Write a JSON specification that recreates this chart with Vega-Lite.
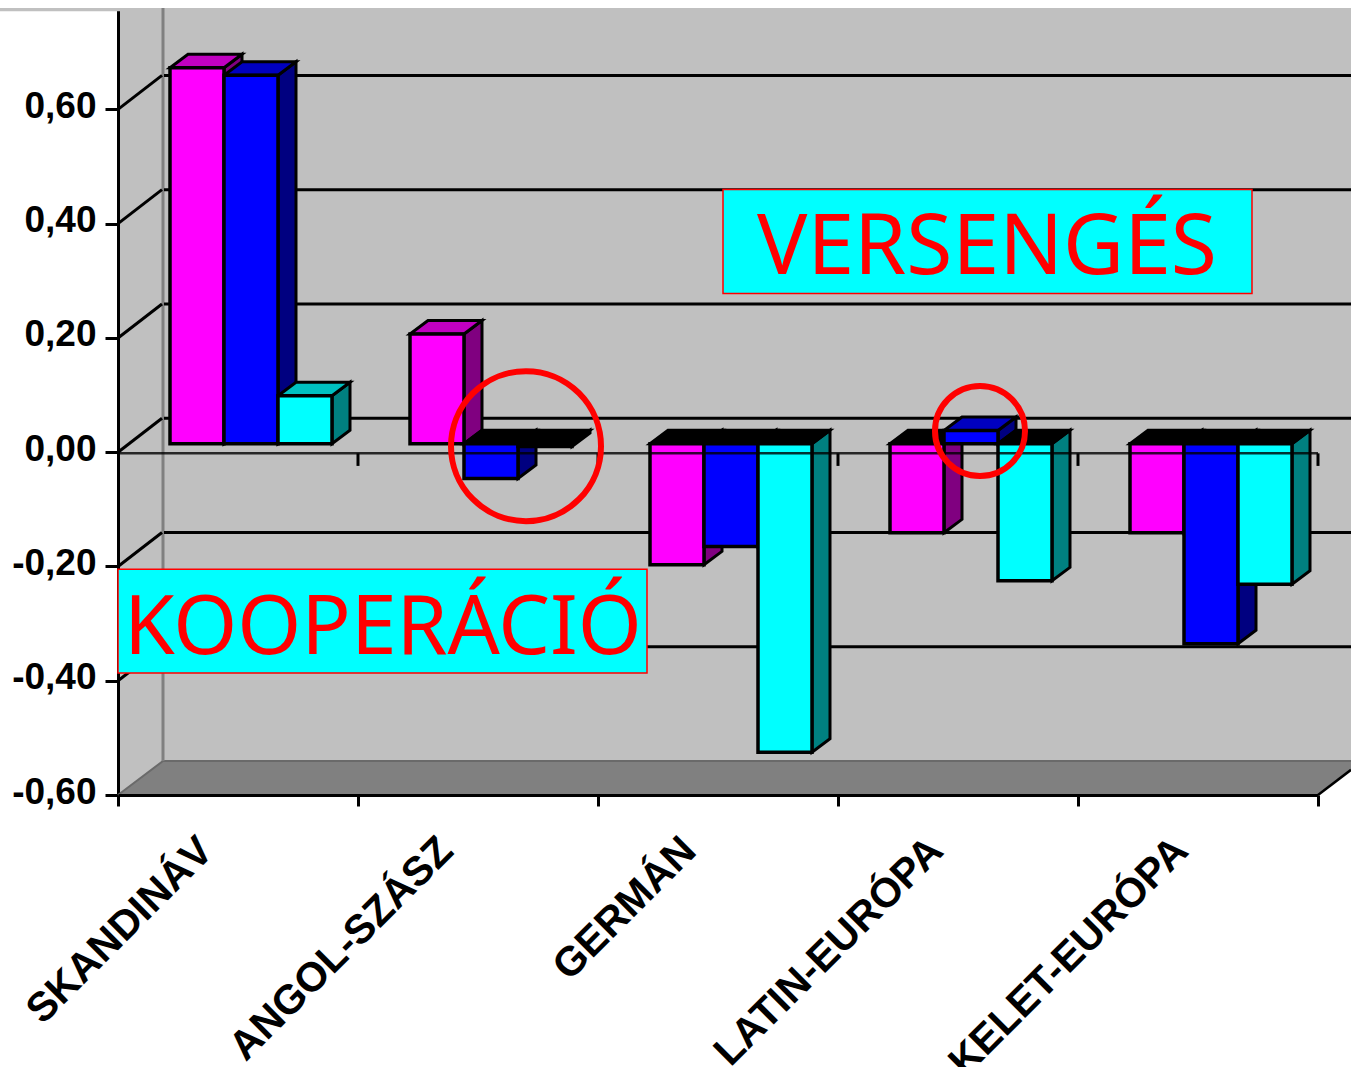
{
"$schema":"https://vega.github.io/schema/vega-lite/v6.json",
"width":1233,"height":787,
"autosize":"none",
"padding":{"left":118,"top":8,"right":0,"bottom":272},
"background":"white",
"view":{"fill":"#c0c0c0","stroke":null},
"config":{"axis":{"grid":false}},
"datasets":{
"bars":[
{"category":"SKANDINÁV","series":"A","value":0.658},{"category":"SKANDINÁV","series":"B","value":0.645},{"category":"SKANDINÁV","series":"C","value":0.084},
{"category":"ANGOL-SZÁSZ","series":"A","value":0.192},{"category":"ANGOL-SZÁSZ","series":"B","value":-0.061},{"category":"ANGOL-SZÁSZ","series":"C","value":-0.005},
{"category":"GERMÁN","series":"A","value":-0.212},{"category":"GERMÁN","series":"B","value":-0.18},{"category":"GERMÁN","series":"C","value":-0.54},
{"category":"LATIN-EURÓPA","series":"A","value":-0.156},{"category":"LATIN-EURÓPA","series":"B","value":0.023},{"category":"LATIN-EURÓPA","series":"C","value":-0.24},
{"category":"KELET-EURÓPA","series":"A","value":-0.156},{"category":"KELET-EURÓPA","series":"B","value":-0.35},{"category":"KELET-EURÓPA","series":"C","value":-0.246}
],
"ticks":[{"value":-0.6},{"value":-0.4},{"value":-0.2},{"value":0},{"value":0.2},{"value":0.4},{"value":0.6}],
"bounds":[{"i":1},{"i":2},{"i":3},{"i":4},{"i":5}],
"one":[{"label":"x"}]
},
"resolve":{"scale":{"x":"independent","color":"independent"},"axis":{"y":"independent"}},
"layer":[
{"data":{"name":"one"},"transform":[{"calculate":"-118","as":"ax"},{"calculate":"1233","as":"ax2"},{"calculate":"0.7775","as":"ay"},{"calculate":"0.772","as":"ay2"}],"mark":{"type":"rect","color":"#c0c0c0"},
 "encoding":{"x":{"field":"ax","type":"quantitative","scale":{"domain":[0,1233]},"axis":null},"x2":{"field":"ax2"},
 "y":{"field":"ay","type":"quantitative","scale":{"domain":[-0.6,0.7775],"nice":false,"zero":false},"axis":{"values":[-0.6,-0.4,-0.2,0,0.2,0.4,0.6],"title":null,"labelExpr":"replace(replace(format(datum.value,'.2f'),'.',','),'−','-')","labelFont":"Liberation Sans","labelFontWeight":"bold","labelFontSize":37,"labelColor":"black","labelPadding":9,"labelOffset":-3,"tickSize":13,"tickWidth":3,"tickColor":"black","domainWidth":3,"domainColor":"black","zindex":0,"grid":false,"labelOverlap":false,"labelFlush":false,"labelBound":false}},"y2":{"field":"ay2"}}},
{"data":{"name":"bars"},"mark":{"type":"bar","opacity":0},
 "encoding":{"x":{"field":"category","type":"nominal","sort":null,"scale":{"type":"band","range":[0,1200],"paddingInner":0,"paddingOuter":0},"axis":{"title":null,"tickBand":"extent","labelAngle":-45,"labelAlign":"right","labelBaseline":"top","labelFont":"Liberation Sans","labelFontWeight":"bold","labelFontSize":41,"labelColor":"black","labelOffset":{"condition":[{"test":"datum.value=='GERMÁN'","value":-43},{"test":"datum.value=='LATIN-EURÓPA'","value":-36},{"test":"datum.value=='KELET-EURÓPA'","value":-31}],"value":-46},"labelPadding":24,"labelLimit":500,"labelOverlap":false,"tickSize":11,"tickWidth":3,"tickColor":"black","domainWidth":3,"domainColor":"black","zindex":1,"grid":false}},
 "y":{"field":"value","type":"quantitative","stack":null,"scale":{"domain":[-0.6,0.7775],"nice":false,"zero":false},"axis":null}}},
{"data":{"name":"one"},"transform":[{"calculate":"[0,45,1200,1233]","as":"fx"},{"flatten":["fx"]},{"calculate":"datum.fx==0?-0.6:-0.5405","as":"fy"},{"calculate":"datum.fx==1233?-0.556:-0.6","as":"fy2"}],
 "mark":{"type":"area","color":"#808080"},
 "encoding":{"x":{"field":"fx","type":"quantitative","scale":{"domain":[0,1233]},"axis":null},
 "y":{"field":"fy2","type":"quantitative","scale":{"domain":[-0.6,0.7775],"nice":false,"zero":false},"axis":null},"y2":{"field":"fy"}}},
{"data":{"name":"one"},"mark":{"type":"area","color":"white"},
 "transform":[{"calculate":"[1200,1233]","as":"fx"},{"flatten":["fx"]},{"calculate":"datum.fx==1233?-0.556:-0.6","as":"fy"},{"calculate":"-0.62","as":"fy2"}],
 "encoding":{"x":{"field":"fx","type":"quantitative","scale":{"domain":[0,1233]},"axis":null},
 "y":{"field":"fy","type":"quantitative","scale":{"domain":[-0.6,0.7775],"nice":false,"zero":false},"axis":null},"y2":{"field":"fy2"}}},
{"data":{"name":"one"},"mark":{"type":"line","color":"black","strokeWidth":2.5},
 "transform":[{"calculate":"[1200,1233]","as":"fx"},{"flatten":["fx"]},{"calculate":"datum.fx==1233?-0.556:-0.6","as":"fy"}],
 "encoding":{"x":{"field":"fx","type":"quantitative","scale":{"domain":[0,1233]},"axis":null},
 "y":{"field":"fy","type":"quantitative","scale":{"domain":[-0.6,0.7775],"nice":false,"zero":false},"axis":null}}},
{"data":{"name":"one"},"mark":{"type":"line","color":"#6a6a6a","strokeWidth":2},
 "transform":[{"calculate":"[0,45,1233]","as":"fx"},{"flatten":["fx"]},{"calculate":"datum.fx==0?-0.6:-0.5405","as":"fy"}],
 "encoding":{"x":{"field":"fx","type":"quantitative","scale":{"domain":[0,1233]},"axis":null},
 "y":{"field":"fy","type":"quantitative","scale":{"domain":[-0.6,0.7775],"nice":false,"zero":false},"axis":null}}},
{"data":{"name":"one"},"transform":[{"calculate":"45","as":"ax"},{"calculate":"-0.5405","as":"ay"},{"calculate":"0.7775","as":"ay2"}],"mark":{"type":"rule","color":"#808080","strokeWidth":3},
 "encoding":{"x":{"field":"ax","type":"quantitative","scale":{"domain":[0,1233]},"axis":null},
 "y":{"field":"ay","type":"quantitative","scale":{"domain":[-0.6,0.7775],"nice":false,"zero":false},"axis":null},"y2":{"field":"ay2"}}},
{"data":{"name":"ticks"},"transform":[{"filter":"datum.value>-0.6"},{"calculate":"datum.value+0.0595","as":"back"},{"calculate":"46","as":"ax"},{"calculate":"1233","as":"ax2"}],"mark":{"type":"rule","color":"black","strokeWidth":3},
 "encoding":{"x":{"field":"ax","type":"quantitative","scale":{"domain":[0,1233]},"axis":null},"x2":{"field":"ax2"},
 "y":{"field":"back","type":"quantitative","scale":{"domain":[-0.6,0.7775],"nice":false,"zero":false},"axis":null}}},
{"data":{"name":"ticks"},"transform":[{"filter":"datum.value>-0.6"},{"calculate":"[0,44]","as":"lx"},{"flatten":["lx"]},{"calculate":"datum.lx==0?datum.value:datum.value+0.0595","as":"ly"}],"mark":{"type":"line","color":"black","strokeWidth":3},
 "encoding":{"x":{"field":"lx","type":"quantitative","scale":{"domain":[0,1233]},"axis":null},
 "y":{"field":"ly","type":"quantitative","scale":{"domain":[-0.6,0.7775],"nice":false,"zero":false},"axis":null},"detail":{"field":"value"}}},
{"data":{"name":"one"},"transform":[{"calculate":"605","as":"ax"},{"calculate":"1134","as":"ax2"},{"calculate":"0.46","as":"ay"},{"calculate":"0.278","as":"ay2"}],"mark":{"type":"rect","color":"#00ffff","stroke":"red","strokeWidth":1.5},
 "encoding":{"x":{"field":"ax","type":"quantitative","scale":{"domain":[0,1233]},"axis":null},"x2":{"field":"ax2"},
 "y":{"field":"ay","type":"quantitative","scale":{"domain":[-0.6,0.7775],"nice":false,"zero":false},"axis":null},"y2":{"field":"ay2"}}},
{"data":{"name":"one"},"transform":[{"calculate":"0","as":"ax"},{"calculate":"529","as":"ax2"},{"calculate":"-0.2047","as":"ay"},{"calculate":"-0.3866","as":"ay2"}],"mark":{"type":"rect","color":"#00ffff","stroke":"red","strokeWidth":1.5},
 "encoding":{"x":{"field":"ax","type":"quantitative","scale":{"domain":[0,1233]},"axis":null},"x2":{"field":"ax2"},
 "y":{"field":"ay","type":"quantitative","scale":{"domain":[-0.6,0.7775],"nice":false,"zero":false},"axis":null},"y2":{"field":"ay2"}}},
{"data":{"name":"bars"},"transform":[
 {"calculate":"indexof(['SKANDINÁV','ANGOL-SZÁSZ','GERMÁN','LATIN-EURÓPA','KELET-EURÓPA'],datum.category)","as":"c"},
 {"calculate":"indexof(['A','B','C'],datum.series)","as":"s"},
 {"calculate":"52+240*datum.c+54*datum.s+54","as":"x1"},
 {"calculate":"max(datum.value,0)+0.0149","as":"hi"},
 {"calculate":"min(datum.value,0)+0.0149","as":"lo"},
 {"calculate":"datum.category+datum.series","as":"key"},
 {"calculate":"[0,1]","as":"t"},{"flatten":["t"]},
 {"calculate":"datum.x1+datum.t*18","as":"px"},
 {"calculate":"datum.hi+datum.t*0.0236","as":"py"},
 {"calculate":"datum.lo+datum.t*0.0236","as":"py2"}],
 "mark":{"type":"area","stroke":"black","strokeWidth":3,"opacity":1},
 "encoding":{"x":{"field":"px","type":"quantitative","scale":{"domain":[0,1233]},"axis":null},
 "y":{"field":"py","type":"quantitative","scale":{"domain":[-0.6,0.7775],"nice":false,"zero":false},"axis":null},"y2":{"field":"py2"},
 "detail":{"field":"key"},
 "color":{"field":"series","type":"nominal","scale":{"domain":["A","B","C"],"range":["#800080","#000080","#008080"]},"legend":null}}},
{"data":{"name":"bars"},"transform":[
 {"calculate":"indexof(['SKANDINÁV','ANGOL-SZÁSZ','GERMÁN','LATIN-EURÓPA','KELET-EURÓPA'],datum.category)","as":"c"},
 {"calculate":"indexof(['A','B','C'],datum.series)","as":"s"},
 {"calculate":"52+240*datum.c+54*datum.s","as":"x0"},
 {"calculate":"max(datum.value,0)+0.0149","as":"hi"},
 {"calculate":"datum.category+datum.series","as":"key"},
 {"filter":"datum.value<=0"},
 {"calculate":"[0,1,2,3]","as":"t"},{"flatten":["t"]},
 {"calculate":"[datum.x0,datum.x0+18,datum.x0+54,datum.x0+72][datum.t]","as":"px"},
 {"calculate":"datum.t==3?datum.hi+0.0236:datum.hi","as":"py"},
 {"calculate":"datum.t==0?datum.hi:datum.hi+0.0236","as":"py2"}],
 "mark":{"type":"area","color":"black","stroke":"black","strokeWidth":3},
 "encoding":{"x":{"field":"px","type":"quantitative","scale":{"domain":[0,1233]},"axis":null},
 "y":{"field":"py","type":"quantitative","scale":{"domain":[-0.6,0.7775],"nice":false,"zero":false},"axis":null},"y2":{"field":"py2"},
 "detail":{"field":"key"}}},
{"data":{"name":"bars"},"transform":[
 {"calculate":"indexof(['SKANDINÁV','ANGOL-SZÁSZ','GERMÁN','LATIN-EURÓPA','KELET-EURÓPA'],datum.category)","as":"c"},
 {"calculate":"indexof(['A','B','C'],datum.series)","as":"s"},
 {"calculate":"52+240*datum.c+54*datum.s","as":"x0"},
 {"calculate":"max(datum.value,0)+0.0149","as":"hi"},
 {"calculate":"datum.category+datum.series","as":"key"},
 {"filter":"datum.value>0"},
 {"calculate":"[0,1,2,3]","as":"t"},{"flatten":["t"]},
 {"calculate":"[datum.x0,datum.x0+18,datum.x0+54,datum.x0+72][datum.t]","as":"px"},
 {"calculate":"datum.t==3?datum.hi+0.0236:datum.hi","as":"py"},
 {"calculate":"datum.t==0?datum.hi:datum.hi+0.0236","as":"py2"}],
 "mark":{"type":"area","stroke":"black","strokeWidth":3},
 "encoding":{"x":{"field":"px","type":"quantitative","scale":{"domain":[0,1233]},"axis":null},
 "y":{"field":"py","type":"quantitative","scale":{"domain":[-0.6,0.7775],"nice":false,"zero":false},"axis":null},"y2":{"field":"py2"},
 "detail":{"field":"key"},
 "color":{"field":"series","type":"nominal","scale":{"domain":["A","B","C"],"range":["#c000c0","#0000c0","#00c0c0"]},"legend":null}}},
{"data":{"name":"bars"},"transform":[
 {"calculate":"indexof(['SKANDINÁV','ANGOL-SZÁSZ','GERMÁN','LATIN-EURÓPA','KELET-EURÓPA'],datum.category)","as":"c"},
 {"calculate":"indexof(['A','B','C'],datum.series)","as":"s"},
 {"calculate":"52+240*datum.c+54*datum.s","as":"x0"},
 {"calculate":"datum.x0+54","as":"x1"},
 {"calculate":"max(datum.value,0)+0.0149","as":"hi"},
 {"calculate":"min(datum.value,0)+0.0149","as":"lo"}],
 "mark":{"type":"rect","stroke":"black","strokeWidth":3.5},
 "encoding":{"x":{"field":"x0","type":"quantitative","scale":{"domain":[0,1233]},"axis":null},"x2":{"field":"x1"},
 "y":{"field":"hi","type":"quantitative","scale":{"domain":[-0.6,0.7775],"nice":false,"zero":false},"axis":null},"y2":{"field":"lo"},
 "color":{"field":"series","type":"nominal","scale":{"domain":["A","B","C"],"range":["#ff00ff","#0000ff","#00ffff"]},"legend":null}}},
{"data":{"name":"one"},"transform":[{"calculate":"0","as":"ax"},{"calculate":"1200","as":"ax2"},{"calculate":"-0.002","as":"ay"}],"mark":{"type":"rule","color":"black","strokeWidth":2.5,"opacity":0.8},
 "encoding":{"x":{"field":"ax","type":"quantitative","scale":{"domain":[0,1233]},"axis":null},"x2":{"field":"ax2"},
 "y":{"field":"ay","type":"quantitative","scale":{"domain":[-0.6,0.7775],"nice":false,"zero":false},"axis":null}}},
{"data":{"name":"bounds"},"transform":[{"calculate":"datum.i*240","as":"bx"},{"calculate":"-0.002","as":"ay"},{"calculate":"-0.024","as":"ay2"}],"mark":{"type":"rule","color":"black","strokeWidth":3},
 "encoding":{"x":{"field":"bx","type":"quantitative","scale":{"domain":[0,1233]},"axis":null},
 "y":{"field":"ay","type":"quantitative","scale":{"domain":[-0.6,0.7775],"nice":false,"zero":false},"axis":null},"y2":{"field":"ay2"}}},
{"data":{"values":[{"label":"VERSENGÉS"}]},"transform":[{"calculate":"869","as":"ax"},{"calculate":"0.355","as":"ay"}],"mark":{"type":"text","color":"red","font":"Noto Sans","fontSize":84,"align":"center","baseline":"middle"},
 "encoding":{"x":{"field":"ax","type":"quantitative","scale":{"domain":[0,1233]},"axis":null},
 "y":{"field":"ay","type":"quantitative","scale":{"domain":[-0.6,0.7775],"nice":false,"zero":false},"axis":null},"text":{"field":"label"}}},
{"data":{"values":[{"label":"KOOPERÁCIÓ"}]},"transform":[{"calculate":"265","as":"ax"},{"calculate":"-0.31","as":"ay"}],"mark":{"type":"text","color":"red","font":"Noto Sans","fontSize":82,"align":"center","baseline":"middle"},
 "encoding":{"x":{"field":"ax","type":"quantitative","scale":{"domain":[0,1233]},"axis":null},
 "y":{"field":"ay","type":"quantitative","scale":{"domain":[-0.6,0.7775],"nice":false,"zero":false},"axis":null},"text":{"field":"label"}}},
{"data":{"name":"one"},"transform":[{"calculate":"408","as":"ax"},{"calculate":"0.0105","as":"ay"}],"mark":{"type":"point","shape":"circle","filled":false,"color":"red","strokeWidth":6,"size":22500,"opacity":1},
 "encoding":{"x":{"field":"ax","type":"quantitative","scale":{"domain":[0,1233]},"axis":null},
 "y":{"field":"ay","type":"quantitative","scale":{"domain":[-0.6,0.7775],"nice":false,"zero":false},"axis":null}}},
{"data":{"name":"one"},"transform":[{"calculate":"862","as":"ax"},{"calculate":"0.037","as":"ay"}],"mark":{"type":"point","shape":"circle","filled":false,"color":"red","strokeWidth":6,"size":8100,"opacity":1},
 "encoding":{"x":{"field":"ax","type":"quantitative","scale":{"domain":[0,1233]},"axis":null},
 "y":{"field":"ay","type":"quantitative","scale":{"domain":[-0.6,0.7775],"nice":false,"zero":false},"axis":null}}}
]
}
